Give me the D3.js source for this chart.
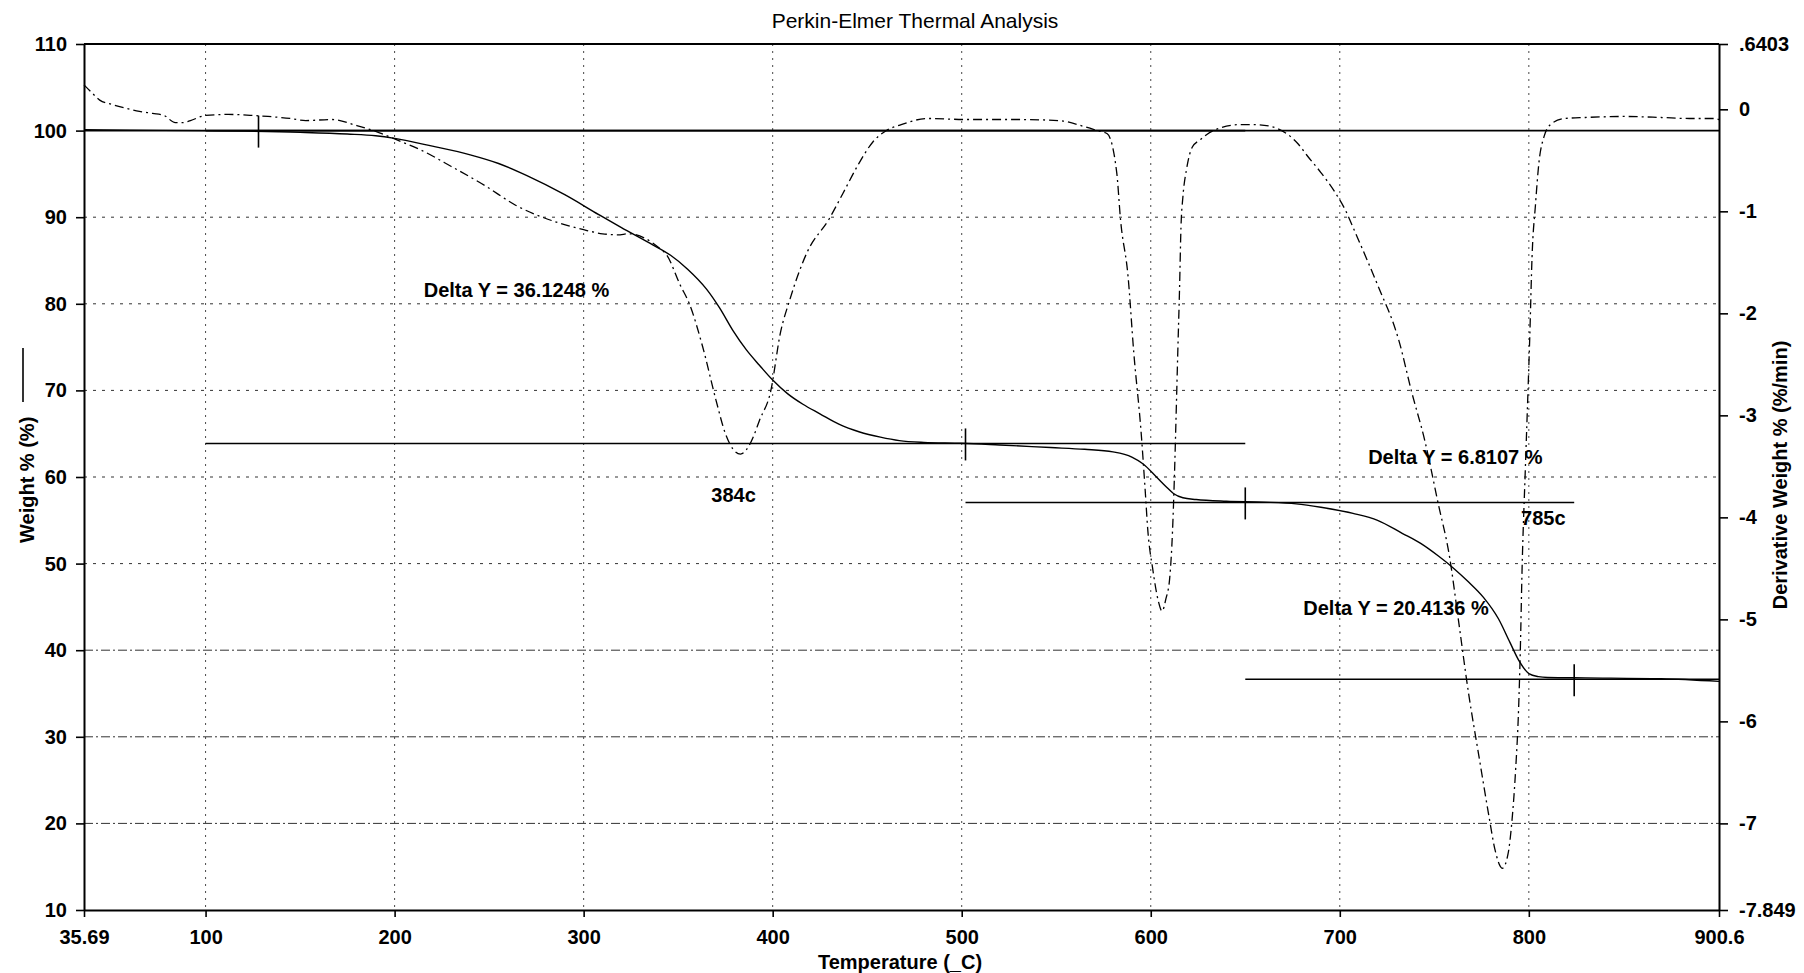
<!DOCTYPE html>
<html>
<head>
<meta charset="utf-8">
<script src="https://cdn.jsdelivr.net/npm/d3@7"></script>
<style>
  body { margin: 0; background: #fff; }
  text { font-family: "Liberation Sans", Arial, sans-serif; fill: #000; }
</style>
</head>
<body>
<script>
// axis ticks
var tempTicks = [35.69, 100, 200, 300, 400, 500, 600, 700, 800, 900.6];
var tempTickLabels = ["35.69", "100", "200", "300", "400", "500", "600", "700", "800", "900.6"];
var weightTicks = [10, 20, 30, 40, 50, 60, 70, 80, 90, 100, 110];
var derivTicks = [0.6403, 0, -1, -2, -3, -4, -5, -6, -7, -7.849];
var derivTickLabels = [".6403", "0", "-1", "-2", "-3", "-4", "-5", "-6", "-7", "-7.849"];

// weight % curve (TGA)
var tgaTemp = [35.69, 60, 100, 150, 175, 190, 200, 220, 240, 255, 270, 290, 308, 320, 335, 346, 355, 365,
  372, 379, 386, 393, 400, 408, 416, 425, 435, 446, 457, 467, 480, 500, 520, 547, 565, 580, 590, 596,
  603, 608, 612, 617, 624, 640, 660, 677, 690, 707, 720, 733, 743, 752, 760, 768, 776, 784, 790, 795,
  800, 805, 810, 830, 870, 900.6];
var tgaWeight = [100.1, 100.05, 100.0, 99.8, 99.6, 99.4, 99.1, 98.2, 97.2, 96.2, 94.8, 92.6, 90.3, 88.8,
  87.0, 85.6, 84.0, 81.7, 79.5, 76.9, 74.7, 72.9, 71.2, 69.6, 68.4, 67.3, 66.1, 65.2, 64.6, 64.2, 64.0,
  63.9, 63.7, 63.4, 63.2, 62.9, 62.3, 61.5, 60.0, 58.9, 58.1, 57.6, 57.4, 57.2, 57.1, 56.9, 56.5, 55.8,
  55.0, 53.5, 52.3, 50.9, 49.5, 47.9, 46.1, 43.6, 40.9, 38.7, 37.3, 36.95, 36.85, 36.8, 36.7, 36.4];

// derivative weight % curve (DTG)
var dtgTemp = [35.69, 40, 44, 50, 58, 65, 72, 78, 84, 88, 92, 100, 112, 125, 133, 145, 153, 167, 180, 192,
  200, 214, 230, 248, 264, 283, 300, 310, 318, 324, 332, 340, 344, 351, 356, 363, 370, 375, 379, 383,
  386, 390, 393, 399, 404, 409, 418, 430, 437, 445, 453, 460, 468, 482, 503, 530, 551, 565, 572, 577,
  582, 584, 588, 591, 595, 597, 598.5, 601, 604, 606, 608, 610, 611.5, 612.5, 613.4, 614.3, 615.2, 616,
  617, 619, 622, 626, 633, 647, 655, 664, 672, 678, 683, 690, 697, 703, 708, 715, 722, 728, 731, 738,
  745, 752, 758, 763, 768, 773.5, 779, 782, 786, 789, 791, 793, 794.6, 795.5, 796.4, 798.2, 799.6,
  800.5, 801.7, 803.5, 805.3, 808, 812, 819, 830, 850, 870, 885, 898, 900.6];
var dtgRate = [0.24, 0.16, 0.09, 0.05, 0.01, -0.02, -0.04, -0.06, -0.13, -0.13, -0.11, -0.06, -0.05, -0.06,
  -0.07, -0.09, -0.11, -0.10, -0.16, -0.23, -0.29, -0.40, -0.56, -0.75, -0.94, -1.09, -1.18, -1.22, -1.23,
  -1.22, -1.26, -1.36, -1.43, -1.72, -1.91, -2.33, -2.85, -3.18, -3.33, -3.38, -3.34, -3.20, -3.05, -2.76,
  -2.20, -1.87, -1.41, -1.07, -0.83, -0.55, -0.32, -0.21, -0.15, -0.09, -0.10, -0.10, -0.11, -0.17, -0.21,
  -0.24, -0.62, -1.08, -1.64, -2.38, -3.19, -3.72, -4.14, -4.50, -4.82, -4.92, -4.80, -4.60, -4.14, -3.61,
  -3.01, -2.38, -1.78, -1.15, -0.86, -0.58, -0.37, -0.30, -0.21, -0.15, -0.15, -0.17, -0.24, -0.34, -0.46,
  -0.62, -0.80, -0.99, -1.20, -1.50, -1.81, -2.08, -2.25, -2.77, -3.25, -3.86, -4.38, -5.04, -5.71, -6.33,
  -6.94, -7.25, -7.44, -7.30, -6.99, -6.48, -5.87, -5.30, -4.53, -3.50, -2.74, -2.23, -1.45, -0.94, -0.53,
  -0.27, -0.14, -0.09, -0.08, -0.07, -0.08, -0.09, -0.09, -0.10];

// step analysis: levels, spans and limit markers
var stepLevel = [100, 63.875, 57.064, 36.651];
var stepFrom = [100, 100, 502, 650];
var stepTo = [650, 650, 824, 900.6];
var markerTemp = [128, 502, 650, 824];
var markerLevel = [100, 63.875, 57.064, 36.651];
var deltaLabels = ["Delta Y = 36.1248 %", "Delta Y = 6.8107 %", "Delta Y = 20.4136 %"];
var peakLabels = ["384c", "785c"];

// set the dimensions and margins of the graph
var outerWidth = 1804;
var outerHeight = 973;
var margin = {top: 44, right: 85, bottom: 63, left: 84},
    width = outerWidth - margin.left - margin.right,
    height = outerHeight - margin.top - margin.bottom;

var x = d3.scaleLinear().domain([35.69, 900.6]).range([0, width]);
var yL = d3.scaleLinear().domain([10, 110]).range([height, 0]);
var yR = d3.scaleLinear().domain([-7.849, 0.6403]).range([height, 0]);

var svg = d3.select("body").append("svg")
    .attr("width", outerWidth)
    .attr("height", outerHeight)
    .style("display", "block");

svg.append("rect").attr("width", outerWidth).attr("height", outerHeight).attr("fill", "#fff");

var g = svg.append("g")
    .attr("transform", `translate(${margin.left},${margin.top})`);

// grid
g.selectAll(".vgrid")
    .data(tempTicks.slice(1, -1))
  .enter().append("line")
    .attr("x1", d => x(d)).attr("x2", d => x(d))
    .attr("y1", 0).attr("y2", height)
    .attr("stroke", "#333").attr("stroke-width", 0.9)
    .attr("stroke-dasharray", "2,5");

g.selectAll(".hgrid")
    .data(weightTicks.slice(1, -1))
  .enter().append("line")
    .attr("x1", 0).attr("x2", width)
    .attr("y1", d => yL(d)).attr("y2", d => yL(d))
    .attr("stroke", d => d == 100 ? "#000" : "#333")
    .attr("stroke-width", d => d == 100 ? 1.6 : 1)
    .attr("stroke-dasharray", d => d == 100 ? null : (d <= 40 ? "9,3,2,3" : "3,6"));

// frame top
g.append("line")
    .attr("x1", 0).attr("x2", width).attr("y1", yL(110)).attr("y2", yL(110))
    .attr("stroke", "#000").attr("stroke-width", 1.8);

// axes
function styleAxis(sel) {
  sel.selectAll(".domain").attr("stroke", "#000").attr("stroke-width", 2);
  sel.selectAll(".tick line").attr("stroke", "#000").attr("stroke-width", 1.6);
  sel.selectAll(".tick text")
      .attr("font-family", "'Liberation Sans', Arial, sans-serif")
      .attr("font-size", 20).attr("font-weight", "bold");
}

g.append("g")
    .attr("transform", `translate(0,${height})`)
    .call(d3.axisBottom(x).tickValues(tempTicks)
      .tickFormat((d, i) => tempTickLabels[i]).tickSize(7).tickSizeOuter(0).tickPadding(13))
    .call(styleAxis);

g.append("g")
    .call(d3.axisLeft(yL).tickValues(weightTicks).tickSize(8).tickSizeOuter(0).tickPadding(9))
    .call(styleAxis);

g.append("g")
    .attr("transform", `translate(${width},0)`)
    .call(d3.axisRight(yR).tickValues(derivTicks)
      .tickFormat((d, i) => derivTickLabels[i]).tickSize(9).tickSizeOuter(0).tickPadding(11))
    .call(styleAxis);

// step lines and limit markers
g.selectAll(".step")
    .data(stepLevel)
  .enter().append("line")
    .attr("x1", (d, i) => x(stepFrom[i])).attr("x2", (d, i) => x(stepTo[i]))
    .attr("y1", d => yL(d)).attr("y2", d => yL(d))
    .attr("stroke", "#000").attr("stroke-width", 1.6);

g.selectAll(".marker")
    .data(markerTemp)
  .enter().append("line")
    .attr("x1", d => x(d)).attr("x2", d => x(d))
    .attr("y1", (d, i) => yL(markerLevel[i]) - 15).attr("y2", (d, i) => yL(markerLevel[i]) + 17)
    .attr("stroke", "#000").attr("stroke-width", 1.6);

// curves
var tgaLine = d3.line()
    .x(d => x(d[0])).y(d => yL(d[1]))
    .curve(d3.curveMonotoneX);

var dtgLine = d3.line()
    .x(d => x(d[0])).y(d => yR(d[1]))
    .curve(d3.curveMonotoneX);

g.append("path")
    .datum(d3.zip(dtgTemp, dtgRate))
    .attr("fill", "none").attr("stroke", "#000").attr("stroke-width", 1.3)
    .attr("stroke-dasharray", "9,4,2,4")
    .attr("d", dtgLine);

g.append("path")
    .datum(d3.zip(tgaTemp, tgaWeight))
    .attr("fill", "none").attr("stroke", "#000").attr("stroke-width", 1.4)
    .attr("d", tgaLine);

// annotations
var notes = [
  {text: deltaLabels[0], t: 215.4, w: 81.6, anchor: "start"},
  {text: deltaLabels[1], t: 715.0, w: 62.3, anchor: "start"},
  {text: deltaLabels[2], t: 680.7, w: 44.9, anchor: "start"},
  {text: peakLabels[0], t: 379.3, w: 58.0, anchor: "middle"},
  {text: peakLabels[1], t: 795.9, w: 55.3, anchor: "start"}
];

g.selectAll(".note")
    .data(notes)
  .enter().append("text")
    .attr("x", d => x(d.t)).attr("y", d => yL(d.w))
    .attr("dy", "0.36em")
    .attr("text-anchor", d => d.anchor)
    .attr("font-size", 20).attr("font-weight", "bold")
    .text(d => d.text);

// titles
svg.append("text")
    .attr("x", 915).attr("y", 28)
    .attr("text-anchor", "middle")
    .attr("font-size", 21)
    .text("Perkin-Elmer Thermal Analysis");

svg.append("text")
    .attr("x", 900).attr("y", 969)
    .attr("text-anchor", "middle")
    .attr("font-size", 20).attr("font-weight", "bold")
    .text("Temperature (_C)");

svg.append("text")
    .attr("transform", "translate(34,543) rotate(-90)")
    .attr("text-anchor", "start")
    .attr("font-size", 20).attr("font-weight", "bold")
    .text("Weight % (%)");

svg.append("line")
    .attr("x1", 23).attr("x2", 23).attr("y1", 348).attr("y2", 402)
    .attr("stroke", "#000").attr("stroke-width", 1.6);

svg.append("text")
    .attr("transform", "translate(1787,475) rotate(-90)")
    .attr("text-anchor", "middle")
    .attr("font-size", 20).attr("font-weight", "bold")
    .text("Derivative Weight % (%/min)");
</script>
</body>
</html>
